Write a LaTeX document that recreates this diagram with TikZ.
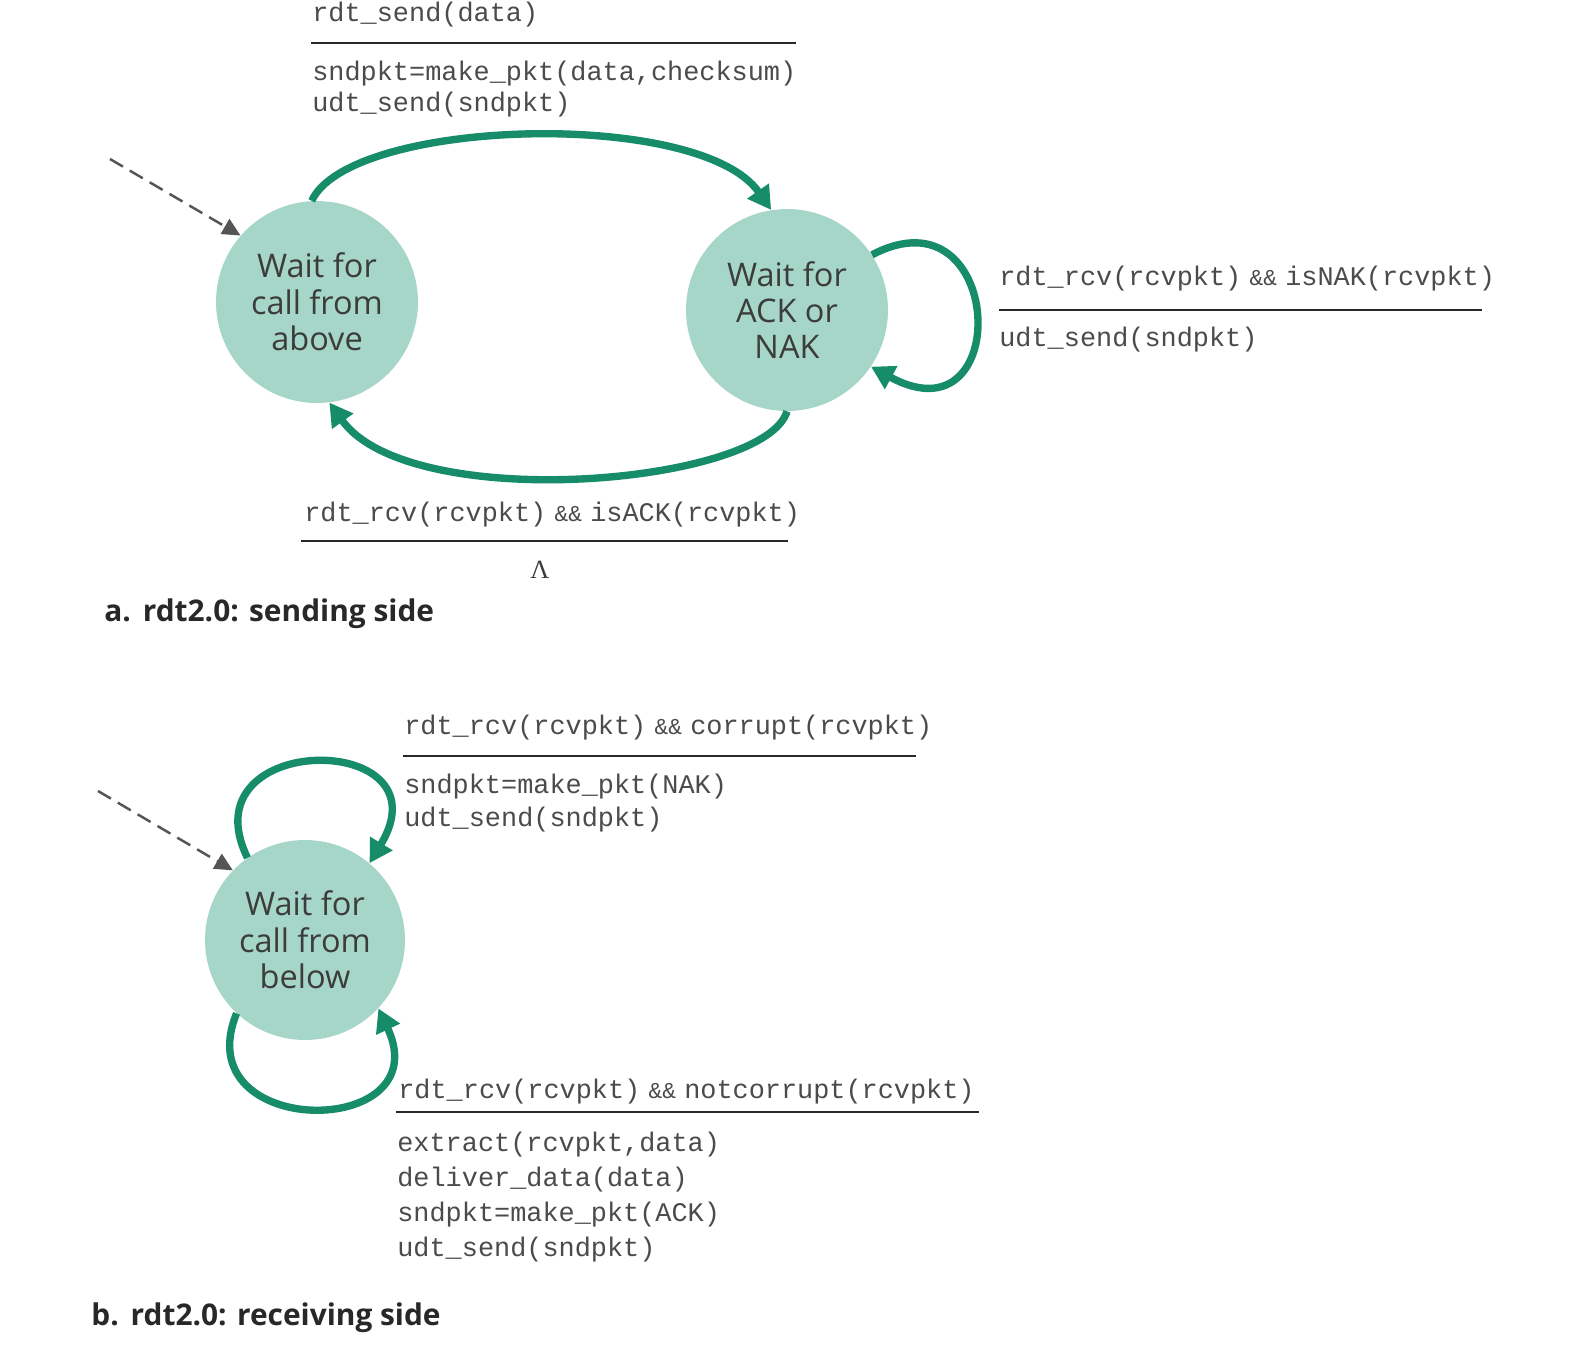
\documentclass[tikz,border=0pt]{standalone}
\usepackage{fontspec}
\setmainfont{Open Sans}
\setmonofont{Liberation Mono}
\newfontfamily\lamfont{Liberation Serif}
\usetikzlibrary{arrows.meta}
\definecolor{fsmgreen}{RGB}{22,140,105}
\definecolor{fsmfill}{RGB}{166,214,200}
\definecolor{txtgray}{RGB}{60,60,60}
\definecolor{codegray}{RGB}{75,75,75}
\definecolor{rulegray}{RGB}{40,40,40}
\definecolor{initgray}{RGB}{85,85,85}
\newcommand{\andand}{\makebox[25pt]{\fontsize{13}{13}\selectfont\&\&}}
\begin{document}
\begin{tikzpicture}[x=0.02cm,y=-0.02cm,
  state/.style={circle, fill=fsmfill, draw=none, minimum size=4.04cm, inner sep=0pt,
    align=center, text=txtgray, font=\fontsize{18.5}{20.7}\selectfont},
  trans/.style={draw=fsmgreen, line width=4.2pt, -{Triangle[length=0.46cm,width=0.5cm]}},
  init/.style={draw=initgray, line width=1.4pt, dash pattern=on 0.3cm off 0.16cm,
    -{Triangle[length=0.36cm,width=0.34cm]}},
  code/.style={anchor=west, inner sep=0pt, text=codegray, font=\ttfamily\fontsize{15.3}{18}\selectfont},
  rule/.style={draw=rulegray, line width=1.3pt},
  caption/.style={anchor=west, inner sep=0pt, text=rulegray, font=\bfseries\fontsize{17}{20}\selectfont}
]
\useasboundingbox[fill=white] (0,0) rectangle (1579,1346);

% ---------- a. sending side ----------
\node[state] (a1) at (317,302) {Wait for\\call from\\above};
\node[state] (a2) at (787,310) {Wait for\\ACK or\\NAK};
\coordinate (a0) at (110,159);
\draw[init] (a0) -- (a1.139);

\draw[trans] (a1.93) .. controls (350,118) and (700,108) .. (a2.99);
\draw[trans] (a2.-90) .. controls (765,485) and (410,515) .. (a1.-83);
\draw[trans] (a2.33) .. controls (1005,185) and (1015,445) .. (a2.-34);

\node[code] (t1) at (312,15) {rdt\_send(data)};
\draw[rule] (311,43) -- (796,43);
\node[code] (t2) at (312,74) {sndpkt=make\_pkt(data,checksum)};
\node[code] (t3) at (312,105) {udt\_send(sndpkt)};

\node[code] (r1) at (999,279) {rdt\_rcv(rcvpkt)\andand isNAK(rcvpkt)};
\draw[rule] (999,310) -- (1482,310);
\node[code] (r2) at (999,340) {udt\_send(sndpkt)};

\node[code] (s1) at (304,515) {rdt\_rcv(rcvpkt)\andand isACK(rcvpkt)};
\draw[rule] (301,541) -- (788,541);
\node[inner sep=0pt, text=txtgray, font=\lamfont\fontsize{15}{15}\selectfont] (lam) at (540,570) {Λ};

\node[caption] (capa) at (104,614) {a.\hspace{0.4em}rdt2.0: sending side};

% ---------- b. receiving side ----------
\node[state, minimum size=4cm] (b1) at (305,940) {Wait for\\call from\\below};
\coordinate (b0) at (98,791);
\draw[init] (b0) -- (b1.136);

\draw[trans] (b1.125) .. controls (185,730) and (450,730) .. (b1.50);
\draw[trans] (b1.-133) .. controls (185,1140) and (440,1140) .. (b1.-43);

\node[code] (u1) at (404,728) {rdt\_rcv(rcvpkt)\andand corrupt(rcvpkt)};
\draw[rule] (403,756) -- (916,756);
\node[code] (u2) at (404,787) {sndpkt=make\_pkt(NAK)};
\node[code] (u3) at (404,820) {udt\_send(sndpkt)};

\node[code] (v1) at (398,1092) {rdt\_rcv(rcvpkt)\andand notcorrupt(rcvpkt)};
\draw[rule] (396,1112) -- (979,1112);
\node[code] (v2) at (397,1145) {extract(rcvpkt,data)};
\node[code] (v3) at (397,1180) {deliver\_data(data)};
\node[code] (v4) at (397,1215) {sndpkt=make\_pkt(ACK)};
\node[code] (v5) at (397,1250) {udt\_send(sndpkt)};

\node[caption] (capb) at (91,1318) {b.\hspace{0.4em}rdt2.0: receiving side};
\end{tikzpicture}
\end{document}
